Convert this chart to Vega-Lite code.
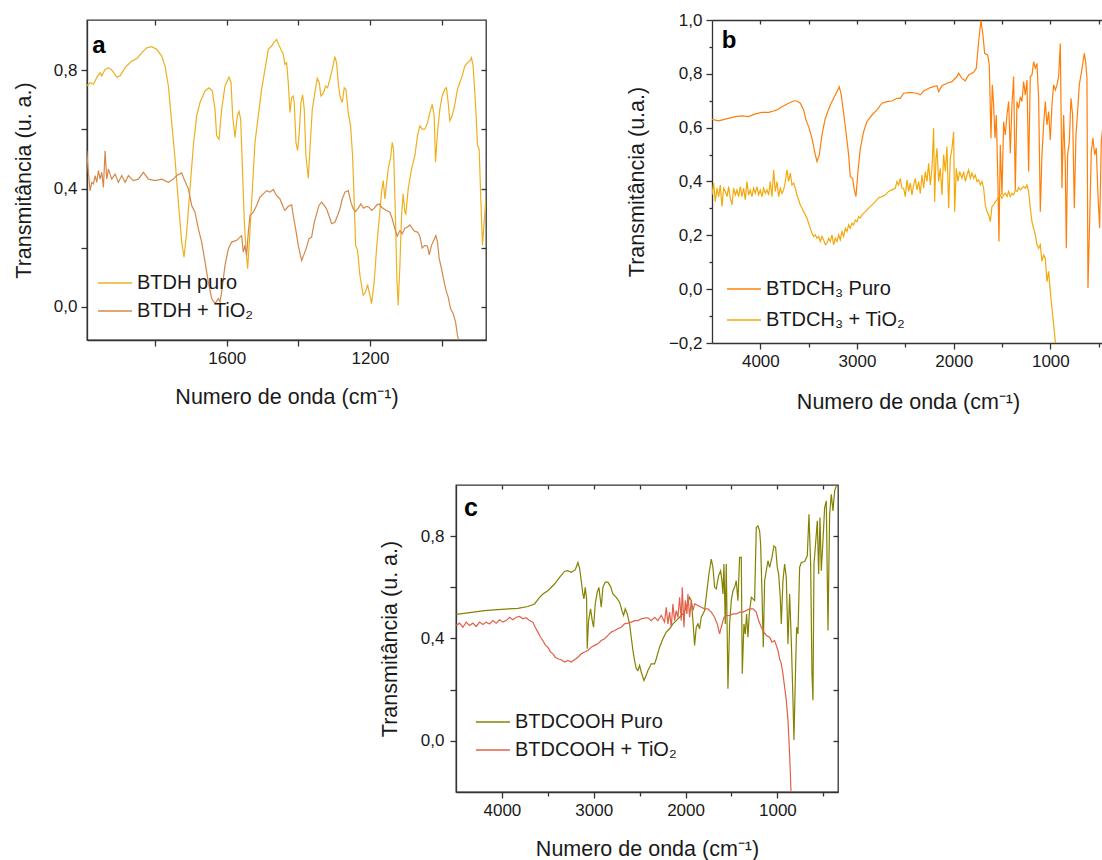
{
 "$schema": "https://vega.github.io/schema/vega-lite/v6.json",
 "background": "white",
 "padding": {"left": 12, "top": 11, "right": 1, "bottom": 0},
 "spacing": 70,
 "resolve": {"scale": {"color": "independent"}, "legend": {"color": "independent"}},
 "config": {
  "font": "Liberation Sans",
  "view": {"stroke": "#333", "strokeWidth": 1.3},
  "axis": {"grid": false, "labelFontSize": 17, "titleFontSize": 21.5, "titleFontWeight": "normal", "labelColor": "#1a1a1a", "titleColor": "#1a1a1a", "domainColor": "#333", "tickColor": "#333", "domainWidth": 1.3, "tickWidth": 1.3, "labelFont": "Liberation Sans", "titleFont": "Liberation Sans"},
  "legend": {"symbolType": "stroke", "symbolSize": 1150, "symbolStrokeWidth": 1.5, "labelFontSize": 20, "labelFont": "Liberation Sans", "labelColor": "#1a1a1a", "labelLimit": 400, "labelOffset": 4, "padding": 0}
 },
 "datasets": {
  "a1": [{"w":1990.7,"t":0.747},{"w":1981.4,"t":0.758},{"w":1972.1,"t":0.753},{"w":1962.8,"t":0.775},{"w":1953.5,"t":0.792},{"w":1948.8,"t":0.781},{"w":1939.5,"t":0.803},{"w":1930.2,"t":0.809},{"w":1920.9,"t":0.801},{"w":1907,"t":0.777},{"w":1897.7,"t":0.781},{"w":1883.7,"t":0.809},{"w":1865.1,"t":0.831},{"w":1851.2,"t":0.839},{"w":1837.2,"t":0.859},{"w":1823.3,"t":0.876},{"w":1809.3,"t":0.88},{"w":1795.4,"t":0.871},{"w":1781.4,"t":0.848},{"w":1772.1,"t":0.814},{"w":1762.8,"t":0.747},{"w":1753.5,"t":0.623},{"w":1744.2,"t":0.5},{"w":1734.9,"t":0.354},{"w":1725.6,"t":0.219},{"w":1719.1,"t":0.168},{"w":1711.7,"t":0.253},{"w":1702.4,"t":0.399},{"w":1693.1,"t":0.545},{"w":1683.8,"t":0.646},{"w":1674.5,"t":0.691},{"w":1660.5,"t":0.73},{"w":1649.3,"t":0.741},{"w":1640,"t":0.73},{"w":1632.6,"t":0.668},{"w":1628.1,"t":0.579},{"w":1621.4,"t":0.567},{"w":1614,"t":0.668},{"w":1604.7,"t":0.747},{"w":1593.5,"t":0.777},{"w":1587.9,"t":0.758},{"w":1583.3,"t":0.646},{"w":1576.8,"t":0.573},{"w":1570.3,"t":0.646},{"w":1565.6,"t":0.661},{"w":1561,"t":0.635},{"w":1556.3,"t":0.477},{"w":1550.8,"t":0.286},{"w":1546.1,"t":0.196},{"w":1541.5,"t":0.129},{"w":1536.8,"t":0.219},{"w":1530.3,"t":0.354},{"w":1521,"t":0.556},{"w":1511.7,"t":0.646},{"w":1502.4,"t":0.736},{"w":1493.1,"t":0.803},{"w":1483.8,"t":0.871},{"w":1474.5,"t":0.882},{"w":1468,"t":0.895},{"w":1460.6,"t":0.904},{"w":1453.1,"t":0.882},{"w":1442,"t":0.854},{"w":1437.3,"t":0.82},{"w":1432.7,"t":0.826},{"w":1428,"t":0.758},{"w":1423.4,"t":0.657},{"w":1418.7,"t":0.708},{"w":1414.1,"t":0.713},{"w":1411.3,"t":0.691},{"w":1406.6,"t":0.556},{"w":1402,"t":0.528},{"w":1397.3,"t":0.59},{"w":1392.7,"t":0.691},{"w":1388,"t":0.717},{"w":1383.4,"t":0.668},{"w":1378.7,"t":0.511},{"w":1372.2,"t":0.435},{"w":1367.5,"t":0.534},{"w":1361,"t":0.668},{"w":1353.6,"t":0.725},{"w":1347.1,"t":0.773},{"w":1341.5,"t":0.758},{"w":1336.9,"t":0.713},{"w":1330.4,"t":0.722},{"w":1323.8,"t":0.747},{"w":1318.3,"t":0.741},{"w":1311.8,"t":0.77},{"w":1305.2,"t":0.803},{"w":1297.8,"t":0.846},{"w":1293.2,"t":0.826},{"w":1288.5,"t":0.758},{"w":1283.9,"t":0.713},{"w":1277.3,"t":0.691},{"w":1271.8,"t":0.741},{"w":1267.1,"t":0.736},{"w":1260.6,"t":0.657},{"w":1254.1,"t":0.612},{"w":1248.5,"t":0.511},{"w":1243.9,"t":0.354},{"w":1240.1,"t":0.208},{"w":1234.6,"t":0.191},{"w":1228.1,"t":0.107},{"w":1218.8,"t":0.039},{"w":1212.2,"t":0.05},{"w":1206.7,"t":0.075},{"w":1200.2,"t":0.039},{"w":1195.5,"t":0.011},{"w":1188.1,"t":0.084},{"w":1181.6,"t":0.197},{"w":1175,"t":0.286},{"w":1167.6,"t":0.388},{"w":1162.9,"t":0.427},{"w":1158.3,"t":0.365},{"w":1153.7,"t":0.416},{"w":1149,"t":0.466},{"w":1141.6,"t":0.511},{"w":1137.8,"t":0.556},{"w":1134.1,"t":0.534},{"w":1128.5,"t":0.286},{"w":1124.8,"t":0.095},{"w":1121.1,"t":0.006},{"w":1116.4,"t":0.14},{"w":1111.8,"t":0.309},{"w":1107.2,"t":0.382},{"w":1102.5,"t":0.32},{"w":1099.7,"t":0.314},{"w":1093.2,"t":0.399},{"w":1083.9,"t":0.466},{"w":1074.6,"t":0.511},{"w":1067.2,"t":0.579},{"w":1060.7,"t":0.612},{"w":1054.1,"t":0.601},{"w":1046.7,"t":0.601},{"w":1039.3,"t":0.623},{"w":1032.8,"t":0.657},{"w":1026.2,"t":0.685},{"w":1020.7,"t":0.646},{"w":1016.9,"t":0.489},{"w":1011.4,"t":0.59},{"w":1004.9,"t":0.668},{"w":998.3,"t":0.713},{"w":990.9,"t":0.736},{"w":986.3,"t":0.741},{"w":981.6,"t":0.691},{"w":977,"t":0.629},{"w":970.4,"t":0.646},{"w":963,"t":0.685},{"w":955.6,"t":0.736},{"w":949.1,"t":0.758},{"w":942.5,"t":0.781},{"w":935.1,"t":0.814},{"w":927.7,"t":0.826},{"w":921.2,"t":0.831},{"w":916.5,"t":0.843},{"w":911.9,"t":0.814},{"w":907.2,"t":0.725},{"w":902.6,"t":0.623},{"w":899.8,"t":0.545},{"w":895.1,"t":0.534},{"w":890.5,"t":0.365},{"w":885.8,"t":0.208},{"w":881.2,"t":0.286},{"w":876.5,"t":0.365}],
  "a2": [{"w":1990.7,"t":0.528},{"w":1986,"t":0.455},{"w":1981.4,"t":0.393},{"w":1976.7,"t":0.421},{"w":1972.1,"t":0.416},{"w":1967.4,"t":0.444},{"w":1962.8,"t":0.421},{"w":1958.1,"t":0.461},{"w":1953.5,"t":0.432},{"w":1948.8,"t":0.455},{"w":1944.2,"t":0.404},{"w":1939.5,"t":0.528},{"w":1934.9,"t":0.432},{"w":1930.2,"t":0.466},{"w":1920.9,"t":0.432},{"w":1911.6,"t":0.449},{"w":1902.3,"t":0.421},{"w":1893,"t":0.444},{"w":1883.7,"t":0.421},{"w":1874.4,"t":0.444},{"w":1860.5,"t":0.427},{"w":1846.5,"t":0.432},{"w":1832.6,"t":0.455},{"w":1818.6,"t":0.432},{"w":1800,"t":0.427},{"w":1781.4,"t":0.432},{"w":1762.8,"t":0.421},{"w":1748.9,"t":0.432},{"w":1739.6,"t":0.444},{"w":1725.6,"t":0.453},{"w":1719.1,"t":0.432},{"w":1707,"t":0.399},{"w":1697.7,"t":0.343},{"w":1688.4,"t":0.32},{"w":1679.1,"t":0.264},{"w":1669.8,"t":0.219},{"w":1660.5,"t":0.152},{"w":1651.2,"t":0.084},{"w":1641.9,"t":0.028},{"w":1632.6,"t":0.011},{"w":1623.3,"t":0.028},{"w":1618.7,"t":0.017},{"w":1614,"t":0.05},{"w":1604.7,"t":0.14},{"w":1595.4,"t":0.196},{"w":1586.1,"t":0.219},{"w":1572.2,"t":0.225},{"w":1562.9,"t":0.236},{"w":1558.2,"t":0.241},{"w":1553.6,"t":0.185},{"w":1548.9,"t":0.208},{"w":1544.3,"t":0.174},{"w":1539.6,"t":0.253},{"w":1535,"t":0.309},{"w":1525.7,"t":0.32},{"w":1516.4,"t":0.343},{"w":1507.1,"t":0.371},{"w":1497.8,"t":0.382},{"w":1488.5,"t":0.393},{"w":1479.2,"t":0.388},{"w":1469.9,"t":0.397},{"w":1460.6,"t":0.376},{"w":1451.3,"t":0.365},{"w":1442,"t":0.337},{"w":1437.3,"t":0.326},{"w":1428,"t":0.34},{"w":1418.7,"t":0.345},{"w":1414.1,"t":0.309},{"w":1407.5,"t":0.264},{"w":1400.1,"t":0.208},{"w":1390.8,"t":0.157},{"w":1383.4,"t":0.18},{"w":1376.9,"t":0.202},{"w":1370.3,"t":0.23},{"w":1362.9,"t":0.236},{"w":1355.5,"t":0.286},{"w":1349,"t":0.314},{"w":1342.4,"t":0.343},{"w":1335,"t":0.354},{"w":1327.6,"t":0.343},{"w":1321.1,"t":0.331},{"w":1314.5,"t":0.309},{"w":1307.1,"t":0.281},{"w":1297.8,"t":0.286},{"w":1290.4,"t":0.309},{"w":1283.9,"t":0.331},{"w":1277.3,"t":0.365},{"w":1269.9,"t":0.388},{"w":1260.6,"t":0.393},{"w":1253.2,"t":0.354},{"w":1246.7,"t":0.331},{"w":1240.1,"t":0.322},{"w":1232.7,"t":0.334},{"w":1225.3,"t":0.348},{"w":1217.8,"t":0.334},{"w":1209.5,"t":0.34},{"w":1202.9,"t":0.337},{"w":1195.5,"t":0.326},{"w":1188.1,"t":0.334},{"w":1180.6,"t":0.345},{"w":1174.1,"t":0.348},{"w":1167.6,"t":0.337},{"w":1160.2,"t":0.331},{"w":1153.7,"t":0.326},{"w":1144.4,"t":0.32},{"w":1137.8,"t":0.298},{"w":1130.4,"t":0.264},{"w":1123.9,"t":0.239},{"w":1116.4,"t":0.258},{"w":1109.9,"t":0.247},{"w":1102.5,"t":0.266},{"w":1095.1,"t":0.27},{"w":1088.6,"t":0.277},{"w":1081.1,"t":0.264},{"w":1074.6,"t":0.255},{"w":1067.2,"t":0.253},{"w":1060.7,"t":0.239},{"w":1054.1,"t":0.199},{"w":1046.7,"t":0.208},{"w":1039.3,"t":0.205},{"w":1034.6,"t":0.176},{"w":1028.1,"t":0.208},{"w":1020.7,"t":0.228},{"w":1016,"t":0.241},{"w":1011.4,"t":0.219},{"w":1006.7,"t":0.163},{"w":1000.2,"t":0.129},{"w":992.8,"t":0.084},{"w":986.3,"t":0.05},{"w":981.6,"t":0.034},{"w":975.1,"t":-0.006},{"w":967.7,"t":-0.023},{"w":961.1,"t":-0.051},{"w":955.6,"t":-0.096},{"w":951.8,"t":-0.116},{"w":944,"t":-0.2}],
  "b1": [{"w":4500.3,"t":0.631},{"w":4431.4,"t":0.625},{"w":4362.4,"t":0.632},{"w":4259,"t":0.641},{"w":4190,"t":0.644},{"w":4121,"t":0.641},{"w":4052.1,"t":0.651},{"w":3983.1,"t":0.657},{"w":3914.2,"t":0.657},{"w":3862.4,"t":0.662},{"w":3828,"t":0.666},{"w":3776.2,"t":0.678},{"w":3707.3,"t":0.691},{"w":3656.6,"t":0.699},{"w":3621.1,"t":0.699},{"w":3586.6,"t":0.691},{"w":3552.1,"t":0.666},{"w":3528,"t":0.629},{"w":3500.4,"t":0.604},{"w":3466,"t":0.561},{"w":3438.3,"t":0.511},{"w":3414.2,"t":0.474},{"w":3390.1,"t":0.499},{"w":3362.5,"t":0.573},{"w":3328,"t":0.635},{"w":3276.3,"t":0.684},{"w":3224.6,"t":0.721},{"w":3183.2,"t":0.752},{"w":3162.5,"t":0.721},{"w":3138.4,"t":0.653},{"w":3114.2,"t":0.585},{"w":3086.6,"t":0.499},{"w":3069.4,"t":0.418},{"w":3045.3,"t":0.412},{"w":3028,"t":0.369},{"w":3010.8,"t":0.344},{"w":2990.1,"t":0.437},{"w":2965.9,"t":0.523},{"w":2931.5,"t":0.585},{"w":2897,"t":0.623},{"w":2845.3,"t":0.647},{"w":2793.5,"t":0.666},{"w":2741.8,"t":0.691},{"w":2690.1,"t":0.697},{"w":2638.4,"t":0.699},{"w":2586.7,"t":0.709},{"w":2552.2,"t":0.709},{"w":2517.7,"t":0.728},{"w":2448.6,"t":0.731},{"w":2379.7,"t":0.728},{"w":2345.2,"t":0.722},{"w":2310.7,"t":0.736},{"w":2241.8,"t":0.749},{"w":2172.8,"t":0.756},{"w":2155.6,"t":0.734},{"w":2121.1,"t":0.756},{"w":2069.4,"t":0.765},{"w":2017.6,"t":0.771},{"w":1965.9,"t":0.79},{"w":1948.7,"t":0.802},{"w":1914.2,"t":0.783},{"w":1879.7,"t":0.774},{"w":1845.2,"t":0.796},{"w":1793.5,"t":0.806},{"w":1765.9,"t":0.821},{"w":1741.8,"t":0.92},{"w":1717.7,"t":0.998},{"w":1697,"t":0.944},{"w":1679.7,"t":0.876},{"w":1648.7,"t":0.87},{"w":1631.5,"t":0.833},{"w":1614.2,"t":0.561},{"w":1600.4,"t":0.759},{"w":1586.6,"t":0.684},{"w":1572.8,"t":0.561},{"w":1559.1,"t":0.647},{"w":1541.8,"t":0.387},{"w":1531.5,"t":0.177},{"w":1517.7,"t":0.536},{"w":1500.4,"t":0.35},{"w":1483.2,"t":0.622},{"w":1466,"t":0.573},{"w":1448.7,"t":0.647},{"w":1431.5,"t":0.697},{"w":1414.2,"t":0.505},{"w":1397,"t":0.684},{"w":1379.8,"t":0.79},{"w":1362.5,"t":0.369},{"w":1345.3,"t":0.697},{"w":1328,"t":0.672},{"w":1310.8,"t":0.715},{"w":1293.6,"t":0.697},{"w":1276.3,"t":0.771},{"w":1259.1,"t":0.722},{"w":1241.8,"t":0.777},{"w":1224.6,"t":0.437},{"w":1207.4,"t":0.79},{"w":1190.1,"t":0.796},{"w":1172.9,"t":0.845},{"w":1155.6,"t":0.821},{"w":1138.4,"t":0.839},{"w":1121.2,"t":0.709},{"w":1103.9,"t":0.288},{"w":1086.7,"t":0.499},{"w":1069.4,"t":0.61},{"w":1052.2,"t":0.697},{"w":1035,"t":0.61},{"w":1017.7,"t":0.66},{"w":1000.5,"t":0.554},{"w":983.2,"t":0.684},{"w":966,"t":0.759},{"w":948.8,"t":0.74},{"w":931.5,"t":0.759},{"w":914.3,"t":0.79},{"w":897,"t":0.913},{"w":879.8,"t":0.375},{"w":862.6,"t":0.647},{"w":845.3,"t":0.462},{"w":835,"t":0.152},{"w":821.2,"t":0.499},{"w":803.9,"t":0.548},{"w":786.7,"t":0.709},{"w":769.5,"t":0.647},{"w":752.2,"t":0.301},{"w":735,"t":0.573},{"w":717.7,"t":0.66},{"w":700.5,"t":0.759},{"w":683.3,"t":0.796},{"w":666,"t":0.833},{"w":648.8,"t":0.876},{"w":635,"t":0.845},{"w":621.2,"t":0.783},{"w":610.9,"t":0.004},{"w":593.6,"t":0.251},{"w":576.4,"t":0.511},{"w":559.2,"t":0.561},{"w":541.9,"t":0.499},{"w":524.7,"t":0.524},{"w":507.4,"t":0.35},{"w":490.2,"t":0.226},{"w":473,"t":0.548},{"w":455.7,"t":0.61},{"w":438.5,"t":0.53}],
  "b2": [{"w":4500.3,"t":0.35},{"w":4483.1,"t":0.394},{"w":4465.8,"t":0.325},{"w":4448.6,"t":0.375},{"w":4431.4,"t":0.344},{"w":4414.1,"t":0.387},{"w":4396.9,"t":0.307},{"w":4379.6,"t":0.375},{"w":4362.4,"t":0.363},{"w":4345.2,"t":0.344},{"w":4327.9,"t":0.381},{"w":4310.7,"t":0.338},{"w":4293.4,"t":0.313},{"w":4276.2,"t":0.375},{"w":4259,"t":0.35},{"w":4241.7,"t":0.369},{"w":4224.5,"t":0.344},{"w":4207.2,"t":0.381},{"w":4190,"t":0.344},{"w":4172.8,"t":0.375},{"w":4155.5,"t":0.332},{"w":4138.3,"t":0.4},{"w":4121,"t":0.35},{"w":4103.8,"t":0.369},{"w":4086.6,"t":0.344},{"w":4069.3,"t":0.375},{"w":4052.1,"t":0.356},{"w":4034.8,"t":0.381},{"w":4017.6,"t":0.35},{"w":4000.4,"t":0.369},{"w":3983.1,"t":0.344},{"w":3965.9,"t":0.375},{"w":3948.6,"t":0.356},{"w":3931.4,"t":0.369},{"w":3914.2,"t":0.35},{"w":3896.9,"t":0.4},{"w":3879.7,"t":0.344},{"w":3862.4,"t":0.443},{"w":3845.2,"t":0.363},{"w":3828,"t":0.4},{"w":3810.7,"t":0.344},{"w":3793.5,"t":0.375},{"w":3776.2,"t":0.356},{"w":3759,"t":0.369},{"w":3741.8,"t":0.4},{"w":3724.5,"t":0.443},{"w":3707.3,"t":0.4},{"w":3690,"t":0.431},{"w":3672.8,"t":0.387},{"w":3655.6,"t":0.394},{"w":3638.3,"t":0.375},{"w":3621.1,"t":0.35},{"w":3603.8,"t":0.332},{"w":3586.6,"t":0.313},{"w":3569.4,"t":0.301},{"w":3552.1,"t":0.288},{"w":3534.9,"t":0.276},{"w":3517.6,"t":0.264},{"w":3500.4,"t":0.245},{"w":3483.2,"t":0.226},{"w":3465.9,"t":0.208},{"w":3448.7,"t":0.196},{"w":3431.4,"t":0.202},{"w":3414.2,"t":0.189},{"w":3397,"t":0.196},{"w":3379.7,"t":0.177},{"w":3362.5,"t":0.196},{"w":3345.2,"t":0.183},{"w":3328,"t":0.165},{"w":3310.8,"t":0.171},{"w":3293.5,"t":0.189},{"w":3276.3,"t":0.177},{"w":3259,"t":0.202},{"w":3241.8,"t":0.165},{"w":3224.6,"t":0.189},{"w":3207.3,"t":0.177},{"w":3190.1,"t":0.202},{"w":3172.8,"t":0.183},{"w":3155.6,"t":0.214},{"w":3138.4,"t":0.196},{"w":3121.1,"t":0.226},{"w":3103.9,"t":0.214},{"w":3086.6,"t":0.239},{"w":3069.4,"t":0.226},{"w":3052.2,"t":0.245},{"w":3034.9,"t":0.239},{"w":3017.7,"t":0.257},{"w":3000.4,"t":0.251},{"w":2983.2,"t":0.27},{"w":2966,"t":0.264},{"w":2948.7,"t":0.276},{"w":2914.2,"t":0.288},{"w":2879.8,"t":0.301},{"w":2845.3,"t":0.313},{"w":2810.8,"t":0.325},{"w":2776.3,"t":0.34},{"w":2741.8,"t":0.344},{"w":2707.4,"t":0.35},{"w":2672.9,"t":0.363},{"w":2638.4,"t":0.369},{"w":2603.9,"t":0.375},{"w":2586.7,"t":0.4},{"w":2569.4,"t":0.387},{"w":2552.2,"t":0.412},{"w":2535,"t":0.375},{"w":2517.6,"t":0.375},{"w":2500.4,"t":0.344},{"w":2483.1,"t":0.406},{"w":2465.9,"t":0.363},{"w":2448.6,"t":0.394},{"w":2431.4,"t":0.35},{"w":2414.2,"t":0.387},{"w":2396.9,"t":0.412},{"w":2379.7,"t":0.369},{"w":2362.4,"t":0.4},{"w":2345.2,"t":0.356},{"w":2328,"t":0.424},{"w":2310.7,"t":0.375},{"w":2293.5,"t":0.437},{"w":2276.2,"t":0.4},{"w":2259,"t":0.468},{"w":2241.8,"t":0.387},{"w":2224.5,"t":0.449},{"w":2207.3,"t":0.598},{"w":2197,"t":0.325},{"w":2183.1,"t":0.486},{"w":2172.8,"t":0.523},{"w":2155.6,"t":0.4},{"w":2138.3,"t":0.449},{"w":2121.1,"t":0.35},{"w":2103.8,"t":0.499},{"w":2086.6,"t":0.437},{"w":2069.4,"t":0.53},{"w":2052.1,"t":0.301},{"w":2034.9,"t":0.486},{"w":2017.6,"t":0.523},{"w":2000.4,"t":0.585},{"w":1990.1,"t":0.288},{"w":1972.8,"t":0.449},{"w":1955.6,"t":0.4},{"w":1938.3,"t":0.437},{"w":1914.2,"t":0.412},{"w":1897,"t":0.437},{"w":1879.7,"t":0.4},{"w":1862.5,"t":0.424},{"w":1845.2,"t":0.443},{"w":1828,"t":0.412},{"w":1810.8,"t":0.431},{"w":1793.5,"t":0.412},{"w":1776.3,"t":0.424},{"w":1759,"t":0.4},{"w":1741.8,"t":0.406},{"w":1724.6,"t":0.387},{"w":1707.3,"t":0.4},{"w":1690.1,"t":0.375},{"w":1672.8,"t":0.313},{"w":1655.6,"t":0.288},{"w":1638.4,"t":0.276},{"w":1621.1,"t":0.251},{"w":1603.9,"t":0.307},{"w":1586.6,"t":0.313},{"w":1569.4,"t":0.325},{"w":1552.2,"t":0.332},{"w":1534.9,"t":0.344},{"w":1517.7,"t":0.35},{"w":1500.4,"t":0.338},{"w":1483.2,"t":0.35},{"w":1466,"t":0.356},{"w":1448.7,"t":0.344},{"w":1431.5,"t":0.363},{"w":1414.2,"t":0.344},{"w":1397,"t":0.356},{"w":1379.8,"t":0.35},{"w":1362.5,"t":0.369},{"w":1345.3,"t":0.363},{"w":1328,"t":0.378},{"w":1310.8,"t":0.369},{"w":1293.6,"t":0.375},{"w":1276.3,"t":0.381},{"w":1259.1,"t":0.375},{"w":1241.8,"t":0.387},{"w":1224.6,"t":0.363},{"w":1207.4,"t":0.301},{"w":1190.1,"t":0.251},{"w":1172.9,"t":0.226},{"w":1155.6,"t":0.202},{"w":1138.4,"t":0.165},{"w":1121.2,"t":0.152},{"w":1103.9,"t":0.165},{"w":1086.7,"t":0.103},{"w":1069.4,"t":0.127},{"w":1052.2,"t":0.115},{"w":1035,"t":0.028},{"w":1017.7,"t":0.066},{"w":1000.5,"t":-0.009},{"w":983.2,"t":-0.071},{"w":966,"t":-0.132},{"w":948.8,"t":-0.194},{"w":940,"t":-0.3}],
  "c1": [{"w":4497.8,"t":0.494},{"w":4370.8,"t":0.5},{"w":4189.2,"t":0.509},{"w":4007.7,"t":0.514},{"w":3826.1,"t":0.518},{"w":3717.2,"t":0.525},{"w":3644.6,"t":0.535},{"w":3590.1,"t":0.561},{"w":3553.8,"t":0.574},{"w":3499.3,"t":0.587},{"w":3426.7,"t":0.613},{"w":3372.2,"t":0.639},{"w":3317.8,"t":0.662},{"w":3281.5,"t":0.665},{"w":3245.1,"t":0.659},{"w":3201.6,"t":0.668},{"w":3172.5,"t":0.697},{"w":3154.4,"t":0.675},{"w":3136.2,"t":0.626},{"w":3118.1,"t":0.574},{"w":3107.2,"t":0.555},{"w":3092.6,"t":0.6},{"w":3078.1,"t":0.555},{"w":3070.9,"t":0.36},{"w":3056.3,"t":0.47},{"w":3034.5,"t":0.516},{"w":3016.4,"t":0.47},{"w":3001.9,"t":0.444},{"w":2983.7,"t":0.535},{"w":2962,"t":0.581},{"w":2943.8,"t":0.6},{"w":2918.4,"t":0.522},{"w":2900.2,"t":0.6},{"w":2874.8,"t":0.62},{"w":2845.7,"t":0.62},{"w":2816.7,"t":0.603},{"w":2791.3,"t":0.574},{"w":2755,"t":0.561},{"w":2718.6,"t":0.542},{"w":2693.2,"t":0.509},{"w":2675.1,"t":0.49},{"w":2656.9,"t":0.516},{"w":2635.1,"t":0.496},{"w":2609.7,"t":0.457},{"w":2591.6,"t":0.405},{"w":2573.4,"t":0.353},{"w":2555.3,"t":0.314},{"w":2537.1,"t":0.282},{"w":2518.9,"t":0.275},{"w":2500.8,"t":0.295},{"w":2482.6,"t":0.269},{"w":2453.6,"t":0.236},{"w":2428.2,"t":0.256},{"w":2410,"t":0.275},{"w":2391.8,"t":0.288},{"w":2373.7,"t":0.301},{"w":2337.4,"t":0.301},{"w":2319.2,"t":0.321},{"w":2282.9,"t":0.366},{"w":2246.6,"t":0.399},{"w":2210.3,"t":0.425},{"w":2174,"t":0.438},{"w":2137.7,"t":0.457},{"w":2101.3,"t":0.47},{"w":2065,"t":0.483},{"w":2028.7,"t":0.496},{"w":1992.4,"t":0.522},{"w":1956.1,"t":0.561},{"w":1937.9,"t":0.548},{"w":1919.8,"t":0.47},{"w":1901.6,"t":0.373},{"w":1883.5,"t":0.444},{"w":1865.3,"t":0.457},{"w":1847.2,"t":0.438},{"w":1829,"t":0.483},{"w":1810.8,"t":0.496},{"w":1792.7,"t":0.509},{"w":1767.3,"t":0.587},{"w":1745.5,"t":0.652},{"w":1720.1,"t":0.71},{"w":1701.9,"t":0.678},{"w":1683.8,"t":0.6},{"w":1665.6,"t":0.594},{"w":1640.2,"t":0.646},{"w":1618.4,"t":0.665},{"w":1603.9,"t":0.626},{"w":1593,"t":0.574},{"w":1582.1,"t":0.691},{"w":1567.6,"t":0.457},{"w":1556.7,"t":0.691},{"w":1538.5,"t":0.204},{"w":1520.4,"t":0.457},{"w":1502.2,"t":0.548},{"w":1484.1,"t":0.587},{"w":1465.9,"t":0.6},{"w":1447.8,"t":0.626},{"w":1429.6,"t":0.548},{"w":1411.5,"t":0.717},{"w":1393.3,"t":0.717},{"w":1382.4,"t":0.262},{"w":1364.3,"t":0.457},{"w":1349.7,"t":0.418},{"w":1335.2,"t":0.496},{"w":1320.7,"t":0.405},{"w":1306.2,"t":0.496},{"w":1284.4,"t":0.561},{"w":1248.1,"t":0.548},{"w":1229.9,"t":0.834},{"w":1211.8,"t":0.84},{"w":1193.6,"t":0.821},{"w":1182.7,"t":0.769},{"w":1168.2,"t":0.587},{"w":1153.7,"t":0.366},{"w":1139.1,"t":0.626},{"w":1121,"t":0.665},{"w":1102.8,"t":0.704},{"w":1084.7,"t":0.678},{"w":1059.2,"t":0.717},{"w":1037.4,"t":0.762},{"w":1019.3,"t":0.756},{"w":1001.1,"t":0.678},{"w":986.6,"t":0.652},{"w":968.5,"t":0.561},{"w":957.6,"t":0.457},{"w":939.4,"t":0.626},{"w":921.3,"t":0.691},{"w":903.1,"t":0.639},{"w":884.9,"t":0.379},{"w":866.8,"t":0.574},{"w":848.7,"t":0.392},{"w":834.1,"t":0.21},{"w":819.6,"t":0.003},{"w":805.1,"t":0.236},{"w":790.6,"t":0.444},{"w":776,"t":0.418},{"w":757.9,"t":0.678},{"w":739.7,"t":0.697},{"w":703.4,"t":0.701},{"w":674.4,"t":0.723},{"w":656.2,"t":0.886},{"w":638,"t":0.691},{"w":623.5,"t":0.262},{"w":612.6,"t":0.159},{"w":601.7,"t":0.691},{"w":587.2,"t":0.756},{"w":565.4,"t":0.86},{"w":550.9,"t":0.652},{"w":536.4,"t":0.873},{"w":521.9,"t":0.665},{"w":503.7,"t":0.782},{"w":485.5,"t":0.912},{"w":467.4,"t":0.938},{"w":449.2,"t":0.431},{"w":431.1,"t":0.886},{"w":412.9,"t":0.964},{"w":394.8,"t":0.899},{"w":376.6,"t":0.977},{"w":358.5,"t":0.996}],
  "c2": [{"w":4497.8,"t":0.451},{"w":4461.5,"t":0.46},{"w":4425.2,"t":0.444},{"w":4388.9,"t":0.464},{"w":4352.6,"t":0.451},{"w":4316.3,"t":0.46},{"w":4280,"t":0.447},{"w":4243.7,"t":0.464},{"w":4207.4,"t":0.455},{"w":4171,"t":0.464},{"w":4134.7,"t":0.457},{"w":4098.4,"t":0.47},{"w":4062.1,"t":0.46},{"w":4025.8,"t":0.473},{"w":3989.5,"t":0.464},{"w":3953.2,"t":0.47},{"w":3916.9,"t":0.483},{"w":3880.6,"t":0.473},{"w":3844.3,"t":0.483},{"w":3808,"t":0.486},{"w":3771.6,"t":0.477},{"w":3735.3,"t":0.481},{"w":3699,"t":0.47},{"w":3662.7,"t":0.464},{"w":3637.3,"t":0.444},{"w":3608.2,"t":0.425},{"w":3579.2,"t":0.405},{"w":3553.8,"t":0.392},{"w":3524.7,"t":0.373},{"w":3499.3,"t":0.366},{"w":3470.3,"t":0.347},{"w":3444.9,"t":0.34},{"w":3419.4,"t":0.327},{"w":3390.4,"t":0.321},{"w":3354.1,"t":0.317},{"w":3317.8,"t":0.308},{"w":3281.5,"t":0.314},{"w":3245.1,"t":0.308},{"w":3208.8,"t":0.317},{"w":3172.5,"t":0.327},{"w":3136.2,"t":0.34},{"w":3099.9,"t":0.347},{"w":3063.6,"t":0.353},{"w":3027.3,"t":0.366},{"w":2991,"t":0.373},{"w":2954.7,"t":0.379},{"w":2918.4,"t":0.392},{"w":2882,"t":0.399},{"w":2845.7,"t":0.412},{"w":2809.4,"t":0.425},{"w":2773.1,"t":0.431},{"w":2736.8,"t":0.438},{"w":2700.5,"t":0.444},{"w":2664.2,"t":0.457},{"w":2627.9,"t":0.46},{"w":2591.6,"t":0.464},{"w":2555.3,"t":0.47},{"w":2518.9,"t":0.47},{"w":2482.6,"t":0.477},{"w":2428.2,"t":0.481},{"w":2410,"t":0.481},{"w":2373.7,"t":0.47},{"w":2337.4,"t":0.483},{"w":2301.1,"t":0.47},{"w":2264.7,"t":0.49},{"w":2228.4,"t":0.464},{"w":2210.3,"t":0.522},{"w":2192.1,"t":0.457},{"w":2174,"t":0.503},{"w":2155.8,"t":0.444},{"w":2137.7,"t":0.535},{"w":2119.5,"t":0.47},{"w":2101.3,"t":0.509},{"w":2083.2,"t":0.483},{"w":2065,"t":0.561},{"w":2046.9,"t":0.47},{"w":2036,"t":0.6},{"w":2017.8,"t":0.444},{"w":2003.3,"t":0.548},{"w":1985.2,"t":0.496},{"w":1974.3,"t":0.574},{"w":1956.1,"t":0.483},{"w":1937.9,"t":0.548},{"w":1919.8,"t":0.509},{"w":1901.6,"t":0.535},{"w":1865.3,"t":0.529},{"w":1829,"t":0.522},{"w":1792.7,"t":0.516},{"w":1756.4,"t":0.516},{"w":1720.1,"t":0.503},{"w":1683.8,"t":0.483},{"w":1654.7,"t":0.457},{"w":1629.3,"t":0.418},{"w":1611.2,"t":0.444},{"w":1582.1,"t":0.483},{"w":1556.7,"t":0.49},{"w":1520.4,"t":0.49},{"w":1484.1,"t":0.496},{"w":1447.8,"t":0.496},{"w":1411.5,"t":0.503},{"w":1375.2,"t":0.503},{"w":1338.8,"t":0.509},{"w":1302.5,"t":0.516},{"w":1266.2,"t":0.516},{"w":1229.9,"t":0.503},{"w":1204.5,"t":0.47},{"w":1175.4,"t":0.444},{"w":1146.4,"t":0.425},{"w":1121,"t":0.412},{"w":1084.7,"t":0.405},{"w":1059.2,"t":0.386},{"w":1030.2,"t":0.392},{"w":1012.1,"t":0.373},{"w":993.9,"t":0.353},{"w":975.8,"t":0.321},{"w":957.6,"t":0.301},{"w":939.4,"t":0.262},{"w":921.3,"t":0.21},{"w":903.1,"t":0.159},{"w":884.9,"t":0.081},{"w":874,"t":0.003},{"w":863.1,"t":-0.088},{"w":852.3,"t":-0.192},{"w":845,"t":-0.3}]
 },
 "vconcat": [
  {
   "spacing": 138,
   "resolve": {"scale": {"color": "independent"}, "legend": {"color": "independent"}},
   "hconcat": [
    {
     "width": 399, "height": 320,
     "layer": [
      {"data": {"name": "a1"}, "mark": {"type": "line", "clip": true, "strokeWidth": 1.2},
       "encoding": {
        "x": {"field": "w", "type": "quantitative", "scale": {"domain": [1990, 876], "nice": false, "zero": false},
          "axis": {"orient": "bottom", "values": [1800, 1600, 1400, 1200, 1000], "labelExpr": "datum.value % 400 === 0 ? format(datum.value, 'd') : ''", "tickSize": 6, "labelPadding": 4, "title": "Numero de onda (cm⁻¹)", "titlePadding": 20}},
        "y": {"field": "t", "type": "quantitative", "scale": {"domain": [-0.112, 0.97], "nice": false, "zero": false},
          "axis": {"orient": "left", "values": [0, 0.2, 0.4, 0.6, 0.8], "labelExpr": "round(datum.value * 10) % 4 === 0 ? replace(format(datum.value, '.1f'), '.', ',') : ''", "tickSize": 6, "labelPadding": 4, "title": "Transmitância (u. a.)", "titlePadding": 18}},
        "color": {"datum": "BTDH puro", "scale": {"domain": ["BTDH puro", "BTDH + TiO₂"], "range": ["#EDB120", "#D4894A"]},
          "legend": {"title": null, "orient": "none", "legendX": 10, "legendY": 245, "rowPadding": -6}}
       }},
      {"data": {"name": "a2"}, "mark": {"type": "line", "clip": true, "strokeWidth": 1.2},
       "encoding": {
        "x": {"field": "w", "type": "quantitative", "axis": null},
        "y": {"field": "t", "type": "quantitative", "axis": null},
        "color": {"datum": "BTDH + TiO₂"}
       }},
      {"data": {"values": [{}]}, "mark": {"type": "text", "text": "a", "fontSize": 24, "fontWeight": "bold", "align": "left", "baseline": "alphabetic", "color": "#000"},
       "encoding": {
        "x": {"datum": 1975, "type": "quantitative", "axis": {"orient": "top", "values": [1800, 1600, 1400, 1200, 1000], "labels": false, "domain": false, "title": null, "tickSize": -5}},
        "y": {"datum": 0.859, "type": "quantitative", "axis": {"orient": "right", "values": [0, 0.2, 0.4, 0.6, 0.8], "labels": false, "domain": false, "title": null, "tickSize": -5}}
       }}
     ]
    },
    {
     "width": 392, "height": 323,
     "view": {"stroke": null},
     "layer": [
      {"data": {"name": "b1"}, "mark": {"type": "line", "clip": true, "strokeWidth": 1.2},
       "encoding": {
        "x": {"field": "w", "type": "quantitative", "scale": {"domain": [4500, 445], "nice": false, "zero": false},
          "axis": {"orient": "bottom", "values": [4000, 3500, 3000, 2500, 2000, 1500, 1000, 500], "labelExpr": "datum.value % 1000 === 0 ? format(datum.value, 'd') : ''", "tickSize": {"condition": {"test": "datum.value % 1000 === 0", "value": 6}, "value": 4}, "labelPadding": 4, "title": "Numero de onda (cm⁻¹)", "titlePadding": 22}},
        "y": {"field": "t", "type": "quantitative", "scale": {"domain": [-0.2, 1.0], "nice": false, "zero": false},
          "axis": {"orient": "left", "values": [-0.2, -0.1, 0, 0.1, 0.2, 0.3, 0.4, 0.5, 0.6, 0.7, 0.8, 0.9, 1], "labelExpr": "round(datum.value * 10) % 2 === 0 ? replace(format(datum.value, '.1f'), '.', ',') : ''", "tickSize": {"condition": {"test": "round(datum.value * 10) % 2 === 0", "value": 6}, "value": 3}, "labelPadding": 4, "title": "Transmitância (u.a.)", "titlePadding": 20}},
        "color": {"datum": "BTDCH₃ Puro", "scale": {"domain": ["BTDCH₃ Puro", "BTDCH₃ + TiO₂"], "range": ["#FF7F0A", "#F3A90C"]},
          "legend": {"title": null, "orient": "none", "legendX": 14, "legendY": 251, "rowPadding": 3}}
       }},
      {"data": {"name": "b2"}, "mark": {"type": "line", "clip": true, "strokeWidth": 1.2},
       "encoding": {
        "x": {"field": "w", "type": "quantitative", "axis": null},
        "y": {"field": "t", "type": "quantitative", "axis": null},
        "color": {"datum": "BTDCH₃ + TiO₂"}
       }},
      {"data": {"values": [{}]}, "mark": {"type": "text", "text": "b", "fontSize": 24, "fontWeight": "bold", "align": "left", "baseline": "alphabetic", "color": "#000"},
       "encoding": {
        "x": {"datum": 4400, "type": "quantitative", "axis": {"orient": "top", "values": [4000, 3500, 3000, 2500, 2000, 1500, 1000, 500], "labels": false, "domain": true, "title": null, "tickSize": -4}},
        "y": {"datum": 0.896, "type": "quantitative", "axis": {"orient": "right", "values": [0.5], "labels": false, "ticks": false, "domain": false, "title": null}}
       }}
     ]
    }
   ]
  },
  {
   "spacing": 0,
   "resolve": {"scale": {"color": "independent"}, "legend": {"color": "independent"}},
   "hconcat": [
    {
     "width": 291, "height": 10,
     "view": {"stroke": null},
     "data": {"values": [{}]},
     "mark": {"type": "point", "opacity": 0}
    },
    {
     "width": 382, "height": 307,
     "layer": [
      {"data": {"name": "c1"}, "mark": {"type": "line", "clip": true, "strokeWidth": 1.2},
       "encoding": {
        "x": {"field": "w", "type": "quantitative", "scale": {"domain": [4500, 340], "nice": false, "zero": false},
          "axis": {"orient": "bottom", "values": [4000, 3500, 3000, 2500, 2000, 1500, 1000, 500], "labelExpr": "datum.value % 1000 === 0 ? format(datum.value, 'd') : ''", "tickSize": {"condition": {"test": "datum.value % 1000 === 0", "value": 6}, "value": 4}, "labelPadding": 4, "title": "Numero de onda (cm⁻¹)", "titlePadding": 20}},
        "y": {"field": "t", "type": "quantitative", "scale": {"domain": [-0.2, 1.0], "nice": false, "zero": false},
          "axis": {"orient": "left", "values": [0, 0.2, 0.4, 0.6, 0.8], "labelExpr": "round(datum.value * 10) % 4 === 0 ? replace(format(datum.value, '.1f'), '.', ',') : ''", "tickSize": 6, "labelPadding": 6, "title": "Transmitância (u. a.)", "titlePadding": 19}},
        "color": {"datum": "BTDCOOH Puro", "scale": {"domain": ["BTDCOOH Puro", "BTDCOOH + TiO₂"], "range": ["#858200", "#E2604A"]},
          "legend": {"title": null, "orient": "none", "legendX": 19, "legendY": 219, "rowPadding": -8}}
       }},
      {"data": {"name": "c2"}, "mark": {"type": "line", "clip": true, "strokeWidth": 1.2},
       "encoding": {
        "x": {"field": "w", "type": "quantitative", "axis": null},
        "y": {"field": "t", "type": "quantitative", "axis": null},
        "color": {"datum": "BTDCOOH + TiO₂"}
       }},
      {"data": {"values": [{}]}, "mark": {"type": "text", "text": "c", "fontSize": 25, "fontWeight": "bold", "align": "left", "baseline": "alphabetic", "color": "#000"},
       "encoding": {
        "x": {"datum": 4414, "type": "quantitative", "axis": {"orient": "top", "values": [4000, 3500, 3000, 2500, 2000, 1500, 1000, 500], "labels": false, "domain": false, "title": null, "tickSize": -4}},
        "y": {"datum": 0.878, "type": "quantitative", "axis": {"orient": "right", "values": [0, 0.2, 0.4, 0.6, 0.8], "labels": false, "domain": false, "title": null, "tickSize": -5}}
       }}
     ]
    }
   ]
  }
 ]
}
